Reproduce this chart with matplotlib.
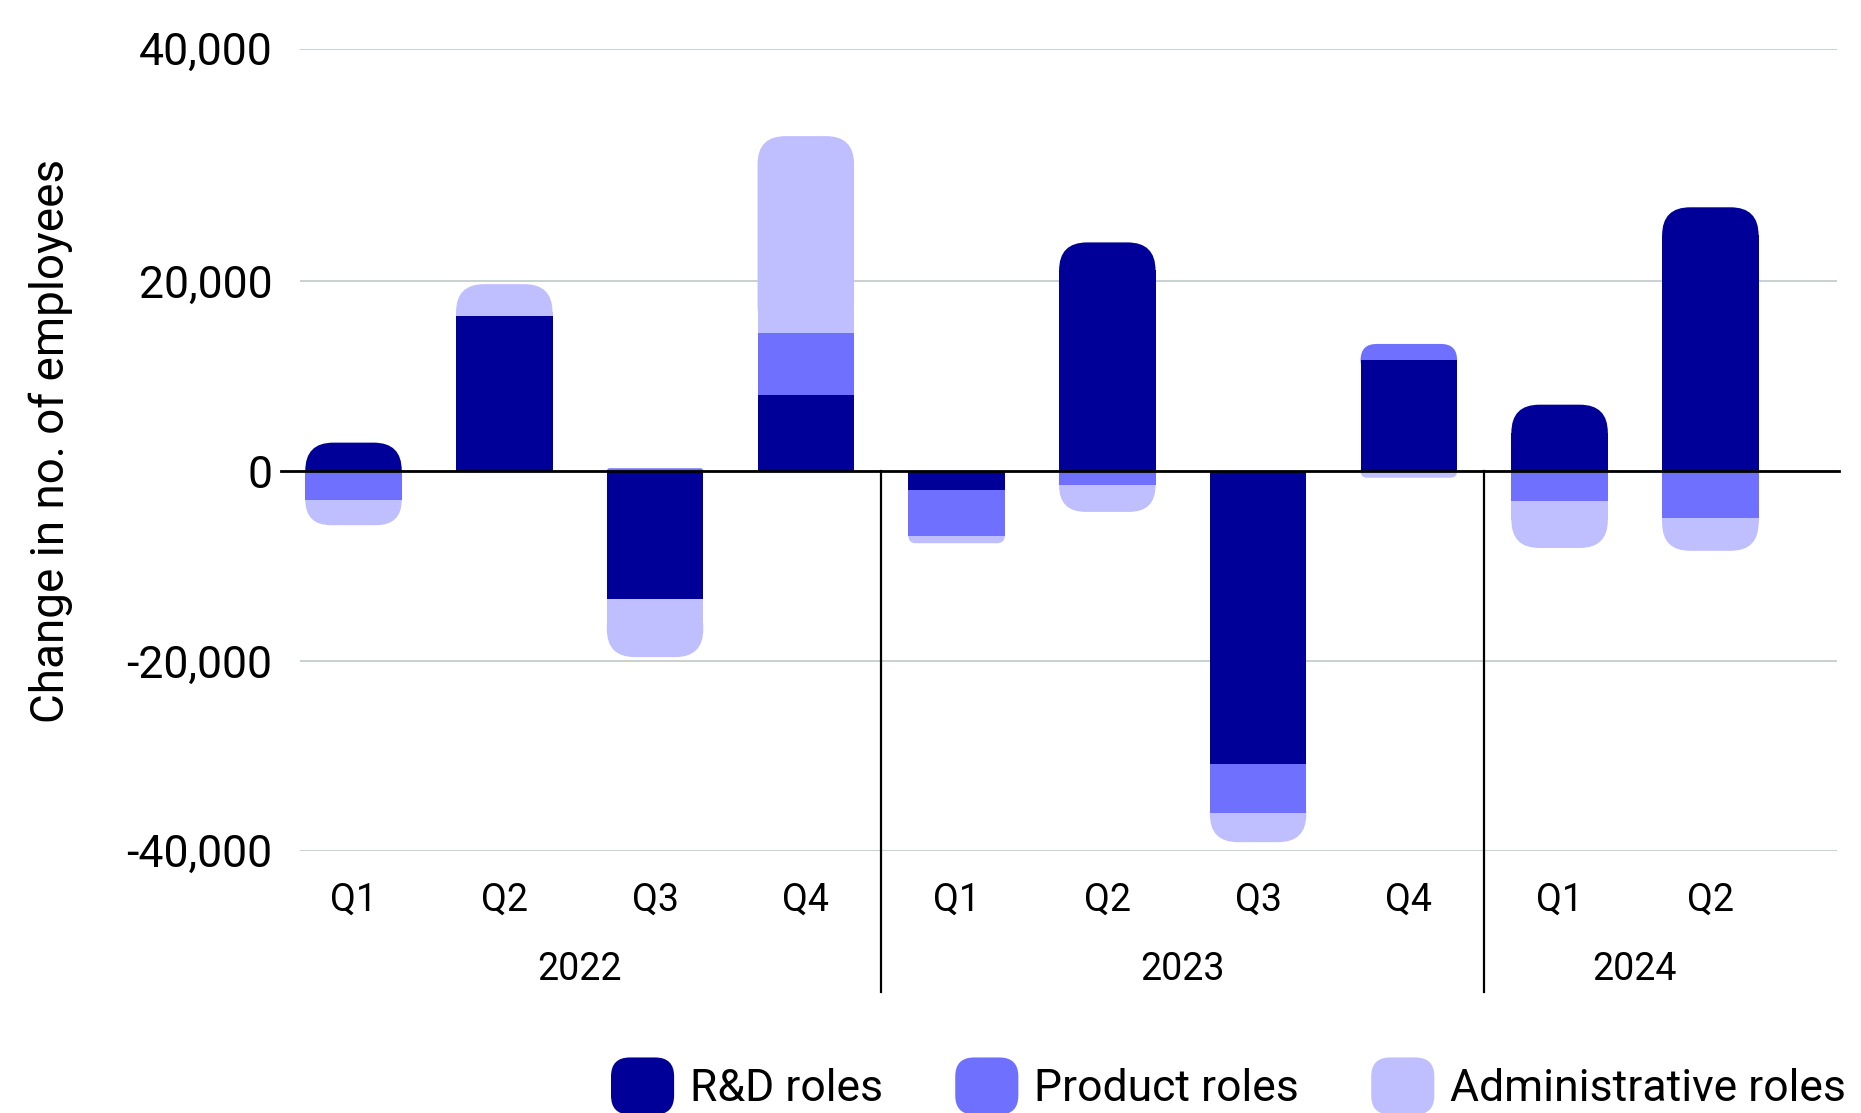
import matplotlib.pyplot as plt
import numpy as np
from matplotlib.patches import FancyBboxPatch, Patch
from matplotlib.legend_handler import HandlerPatch

plt.rcParams['font.family'] = ['Roboto', 'DejaVu Sans']

# dados (variacao no numero de funcionarios por trimestre)
quarters = ['Q1', 'Q2', 'Q3', 'Q4', 'Q1', 'Q2', 'Q3', 'Q4', 'Q1', 'Q2']
years = ['2022', '2023', '2024']
year_groups = [[0, 1, 2, 3], [4, 5, 6, 7], [8, 9]]
rnd = [3000, 16300, -13500, 8000, -2000, 24100, -30900, 11700, 7000, 27800]
product = [-3000, 0, 300, 6500, -4800, -1500, -5100, 1700, -3200, -4900]
admin = [-2700, 3400, -6100, 20800, -800, -2800, -3100, -700, -4900, -3500]
series_names = ['R&D roles', 'Product roles', 'Administrative roles']
colors = ['#000099', '#7070FF', '#BFBFFF']
ytick_vals = [-40000, -20000, 0, 20000, 44500]
ytick_labels = ['-40,000', '-20,000', '0', '20,000', '40,000']

W, H = 1861, 1113
fig = plt.figure(figsize=(W / 100, H / 100), dpi=100)
ax = fig.add_axes([300 / W, 1 - 850.7 / H, 1537 / W, 801.9 / H])

xlim = (-0.355, 9.84)
ylim = (-40000, 44500)
ax.set_xlim(xlim)
ax.set_ylim(ylim)

bb = ax.get_window_extent()
ppx = bb.width / (xlim[1] - xlim[0])
ppy = bb.height / (ylim[1] - ylim[0])

x = np.arange(len(quarters))
bw = 0.64


def outer_segment(i, b, v, c, r=28):
    # segmento da ponta: cantos arredondados so na extremidade externa
    s = np.sign(v)
    h_px = abs(v) * ppy
    r_px = min(r, h_px)
    span = max(abs(v), 2 * r_px / ppy)
    outer = b + v
    y0 = min(outer, outer - s * span)
    p = FancyBboxPatch((i - bw / 2, y0), bw, span,
                       boxstyle=f"round,pad=0,rounding_size={r_px / ppx}",
                       mutation_aspect=ppx / ppy, fc=c, ec='none', zorder=2)
    ax.add_patch(p)
    sq = abs(v) - r_px / ppy
    if sq > 0:
        ax.bar(i, s * sq, bottom=b, width=bw, color=c, linewidth=0, zorder=3)


for i in x:
    pos_base, neg_base = 0, 0
    segs = []
    for vals, c in zip([rnd, product, admin], colors):
        v = vals[i]
        if v == 0:
            continue
        if v > 0:
            b = pos_base
            pos_base += v
        else:
            b = neg_base
            neg_base += v
        segs.append((b, v, c))
    last_pos = max([k for k, sg in enumerate(segs) if sg[1] > 0], default=None)
    last_neg = max([k for k, sg in enumerate(segs) if sg[1] < 0], default=None)
    for k, (b, v, c) in enumerate(segs):
        if k == last_pos or k == last_neg:
            outer_segment(i, b, v, c)
        else:
            ax.bar(i, v, bottom=b, width=bw, color=c, linewidth=0, zorder=3)

# grid e eixos
ax.set_yticks(ytick_vals, ytick_labels)
ax.yaxis.grid(True, color='#C5CDCD', linewidth=1.3)
ax.set_axisbelow(True)
for sp in ax.spines.values():
    sp.set_visible(False)
ax.tick_params(axis='y', length=0, pad=20, labelsize=32)
ax.tick_params(axis='x', length=0, pad=22, labelsize=27)
ax.set_xticks(x, quarters)

# linha do zero
ax.plot([-0.0124, 1.001], [0, 0], transform=ax.get_yaxis_transform(),
        color='black', linewidth=2, clip_on=False, zorder=5)

# separadores dos anos
zero_ax = (0 - ylim[0]) / (ylim[1] - ylim[0])
for g in year_groups[:-1]:
    xs = g[-1] + 0.5
    ax.plot([xs, xs], [-0.176, zero_ax], transform=ax.get_xaxis_transform(),
            color='black', linewidth=1.6, clip_on=False, zorder=5)

for yr, g in zip(years, year_groups):
    ax.text(np.mean(g), -0.148, yr, transform=ax.get_xaxis_transform(),
            ha='center', va='center', fontsize=27)

ax.set_ylabel('Change in no. of employees', fontsize=33)
ax.yaxis.set_label_coords(-0.148, 0.511)


class RoundHandler(HandlerPatch):
    def create_artists(self, legend, orig_handle, xdescent, ydescent,
                       width, height, fontsize, trans):
        r = 0.3 * width
        p = FancyBboxPatch((-xdescent, -ydescent), width, height,
                           boxstyle=f"round,pad=0,rounding_size={r}",
                           fc=orig_handle.get_facecolor(), ec='none',
                           transform=trans)
        return [p]


handles = [Patch(facecolor=c) for c in colors]
fs = 32
fig.legend(handles, series_names, loc='center left', bbox_to_anchor=(611 / W, 1 - 1086 / H),
           ncol=3, frameon=False, fontsize=fs, handlelength=1.42, handleheight=1.6,
           handletextpad=0.36, columnspacing=1.62, borderpad=0, borderaxespad=0,
           handler_map={Patch: RoundHandler()})

fig.savefig('out.png', dpi=100)
